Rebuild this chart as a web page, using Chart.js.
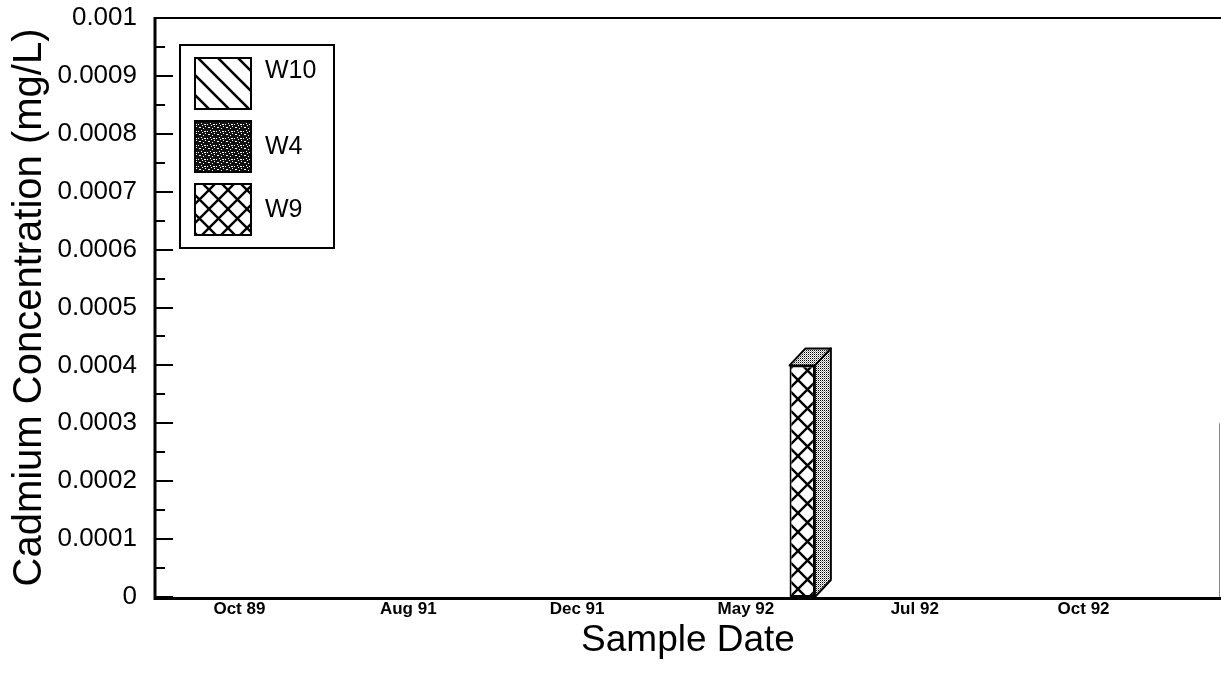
<!DOCTYPE html>
<html><head><meta charset="utf-8">
<script src="https://cdn.jsdelivr.net/npm/chart.js@4"></script>
<style>html,body{margin:0;padding:0;background:#fff}#wrap{width:1221px;height:679px;position:relative}</style>
</head><body><div id="wrap"><canvas id="c" width="1221" height="679"></canvas></div>
<script>
// ---- data ----
const categories = ['Oct 89', 'Aug 91', 'Dec 91', 'May 92', 'Jul 92', 'Oct 92'];
const seriesNames = ['W10', 'W4', 'W9'];
const w10Values = [0, 0, 0, 0, 0, 0];
const w4Values = [0, 0, 0, 0, 0, 0];
const w9Values = [0, 0, 0, 0.0004, 0, 0];
const yMin = 0, yMax = 0.001, yStep = 0.0001;
const yTitle = 'Cadmium Concentration (mg/L)';
const xTitle = 'Sample Date';

// ---- patterns ----
function tile(w, h, draw) {
  const c = document.createElement('canvas'); c.width = w; c.height = h;
  const g = c.getContext('2d'); g.fillStyle = '#fff'; g.fillRect(0, 0, w, h);
  draw(g, w, h); return g.createPattern(c, 'repeat');
}
const patW10 = tile(20, 20, (g, s) => {
  g.strokeStyle = '#000'; g.lineWidth = 2.6; g.beginPath();
  g.moveTo(-2, -2); g.lineTo(s + 2, s + 2);
  g.moveTo(-2, s - 2); g.lineTo(2, s + 2);
  g.moveTo(s - 2, -2); g.lineTo(s + 2, 2); g.stroke();
});
const patW9 = tile(19, 19, (g, s) => {
  g.strokeStyle = '#000'; g.lineWidth = 2.4; g.beginPath();
  g.moveTo(-2, -2); g.lineTo(s + 2, s + 2);
  g.moveTo(s + 2, -2); g.lineTo(-2, s + 2);
  g.moveTo(-2, s - 2); g.lineTo(2, s + 2);
  g.moveTo(s - 2, -2); g.lineTo(s + 2, 2);
  g.moveTo(-2, 2); g.lineTo(2, -2);
  g.moveTo(s - 2, s + 2); g.lineTo(s + 2, s - 2); g.stroke();
});
const patW4 = tile(9, 7, (g, w, h) => {
  g.fillStyle = '#111'; g.fillRect(0, 0, w, h);
  g.fillStyle = '#fff';
  [[1,1],[2,1],[5,2],[7,0],[3,4],[0,5],[6,5],[7,5],[4,6]].forEach(p => g.fillRect(p[0], p[1], 1, 1));
});
const patStipple = tile(2, 2, (g) => {
  g.fillStyle = '#000'; g.fillRect(0, 0, 1, 1);
  g.fillStyle = '#999'; g.fillRect(1, 1, 1, 1);
});
const seriesFills = [patW10, patW4, patW9];

// ---- plugins ----
const frameAndExtras = {
  id: 'frameAndExtras',
  afterDatasetsDraw(chart) {
    const ctx = chart.ctx;
    // 3D faces for bars
    const dx = 16, dy = 17;
    chart.data.datasets.forEach((ds, di) => {
      const meta = chart.getDatasetMeta(di);
      meta.data.forEach((el, i) => {
        if (!(ds.data[i] > 0)) return;
        const p = el.getProps(['x', 'y', 'base', 'width'], true);
        const l = p.x - p.width / 2, r = p.x + p.width / 2;
        ctx.save();
        ctx.fillStyle = patStipple; ctx.strokeStyle = '#000'; ctx.lineWidth = 2; ctx.lineJoin = 'round';
        ctx.beginPath();
        ctx.moveTo(r, p.y); ctx.lineTo(r + dx, p.y - dy); ctx.lineTo(r + dx, p.base - dy); ctx.lineTo(r, p.base); ctx.closePath();
        ctx.fill(); ctx.stroke();
        ctx.beginPath();
        ctx.moveTo(l, p.y); ctx.lineTo(l + dx, p.y - dy); ctx.lineTo(r + dx, p.y - dy); ctx.lineTo(r, p.y); ctx.closePath();
        ctx.fill(); ctx.stroke();
        ctx.restore();
      });
    });
  },
  afterDraw(chart) {
    const ctx = chart.ctx; const a = chart.chartArea; const W = chart.width;
    const ys = chart.scales.y;
    ctx.save();
    ctx.strokeStyle = '#000';
    // frame
    ctx.lineWidth = 3;
    ctx.beginPath(); ctx.moveTo(a.left, a.top - 1); ctx.lineTo(a.left, a.bottom + 1.5); ctx.lineTo(W, a.bottom + 1.5); ctx.stroke();
    ctx.lineWidth = 2;
    ctx.beginPath(); ctx.moveTo(a.left, a.top); ctx.lineTo(W, a.top); ctx.stroke();
    ctx.strokeStyle = '#888'; ctx.lineWidth = 1;
    ctx.beginPath(); ctx.moveTo(W - 1.5, a.top + (a.bottom - a.top) * 0.7); ctx.lineTo(W - 1.5, a.bottom); ctx.stroke();
    // inward ticks (major and minor)
    ctx.strokeStyle = '#000'; ctx.lineWidth = 2;
    const n = Math.round((yMax - yMin) / yStep);
    for (let k = 0; k <= 2 * n; k++) {
      const v = yMin + k * yStep / 2;
      const py = Math.round(ys.getPixelForValue(v));
      const len = (k % 2 === 0) ? 18 : 10;
      ctx.beginPath(); ctx.moveTo(a.left, py); ctx.lineTo(a.left + len, py); ctx.stroke();
    }
    // x title
    ctx.fillStyle = '#000'; ctx.font = '37px "Liberation Sans", Arial, sans-serif';
    ctx.textAlign = 'center'; ctx.textBaseline = 'alphabetic';
    ctx.fillText(xTitle, (a.left + W) / 2, 651);
    // legend
    const bx = a.left + 25, by = a.top + 27, bw = 154, bh = 203;
    ctx.fillStyle = '#fff'; ctx.fillRect(bx, by, bw, bh);
    ctx.lineWidth = 2; ctx.strokeRect(bx, by, bw, bh);
    chart.data.datasets.forEach((ds, i) => {
      const sx = bx + 15, sy = by + 13 + i * 63, sw = 56, sh = 51;
      ctx.fillStyle = ds.backgroundColor; ctx.fillRect(sx, sy, sw, sh);
      ctx.strokeStyle = '#000'; ctx.lineWidth = 2; ctx.strokeRect(sx, sy, sw, sh);
      ctx.fillStyle = '#000'; ctx.font = '25px "Liberation Sans", Arial, sans-serif';
      ctx.textAlign = 'left'; ctx.textBaseline = 'middle';
      ctx.fillText(ds.label, bx + 85, sy + sh / 2 + (i === 0 ? -12 : 1));
    });
    ctx.restore();
  }
};

const chart = new Chart(document.getElementById('c'), {
  type: 'bar',
  data: {
    labels: categories,
    datasets: [
      { label: seriesNames[0], data: w10Values, backgroundColor: seriesFills[0] },
      { label: seriesNames[1], data: w4Values, backgroundColor: seriesFills[1] },
      { label: seriesNames[2], data: w9Values, backgroundColor: seriesFills[2] }
    ].map(d => Object.assign(d, { borderColor: '#000', borderWidth: 2, borderSkipped: false,
        categoryPercentage: 1.0, barPercentage: 0.45 }))
  },
  options: {
    responsive: false, animation: false, devicePixelRatio: 1,
    layout: { padding: { top: 18, right: 53, left: 0, bottom: 0 } },
    plugins: { legend: { display: false }, tooltip: { enabled: false } },
    scales: {
      x: {
        offset: true,
        grid: { display: false, drawTicks: false },
        border: { display: false },
        ticks: { color: '#000', padding: 2, maxRotation: 0, autoSkip: false,
          font: { family: '"Liberation Sans", Arial, sans-serif', size: 17, weight: 'bold' } },
        afterFit: s => { s.height = 82; s.paddingLeft = 0; s.paddingRight = 0; }
      },
      y: {
        min: yMin, max: yMax,
        grid: { display: false, drawTicks: false },
        border: { display: false },
        ticks: { stepSize: yStep, color: '#000', padding: 18,
          font: { family: '"Liberation Sans", Arial, sans-serif', size: 26 },
          callback: v => String(parseFloat(Number(v).toFixed(4))) },
        title: { display: true, text: yTitle, color: '#000', padding: { top: 6, bottom: 0 },
          font: { family: '"Liberation Sans", Arial, sans-serif', size: 40 } },
        afterFit: s => { s.width = 155; s.paddingTop = 0; s.paddingBottom = 0; }
      }
    }
  },
  plugins: [frameAndExtras]
});
</script></body></html>
